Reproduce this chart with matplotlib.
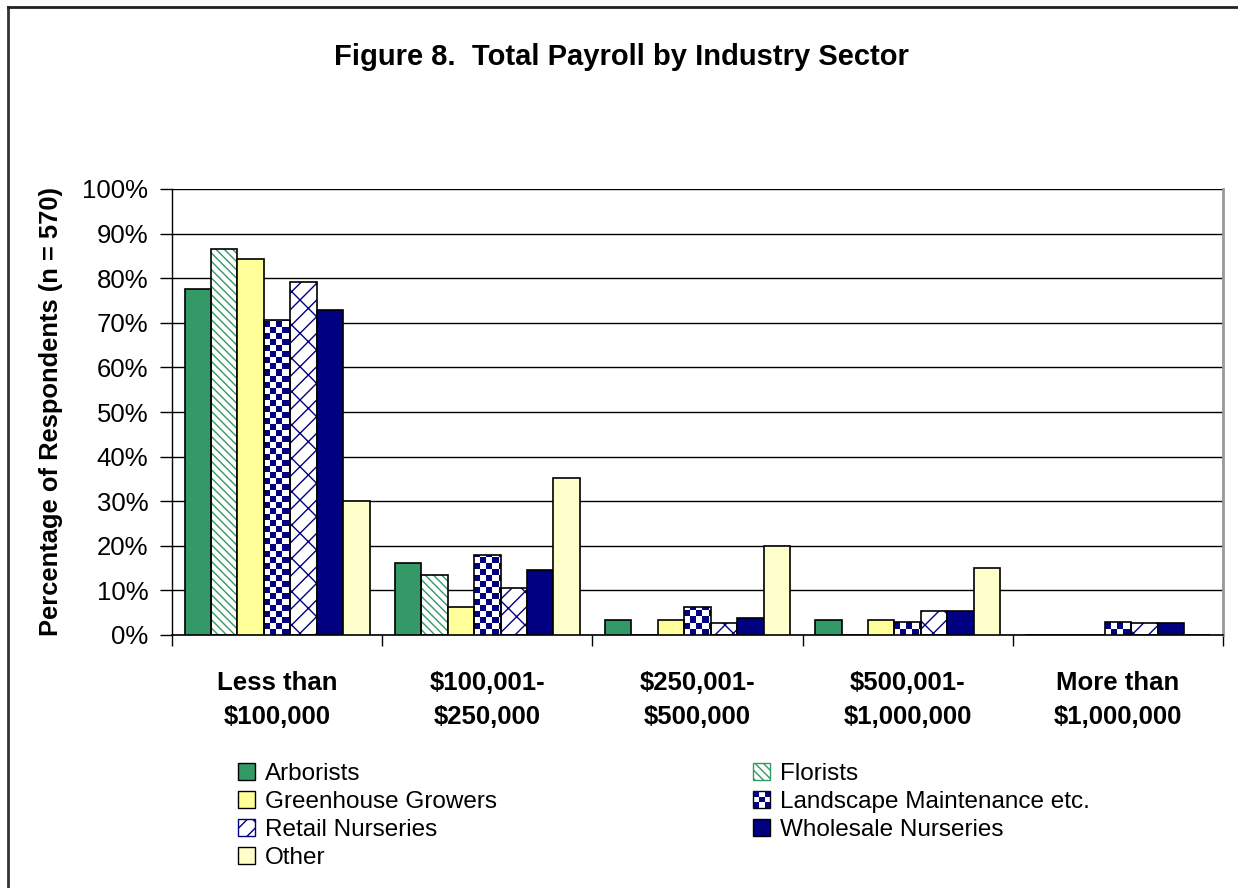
import numpy as np
import matplotlib.pyplot as plt
import matplotlib as mpl
from matplotlib.patches import Rectangle
from matplotlib.legend_handler import HandlerPatch
from matplotlib.colors import ListedColormap

plt.rcParams['font.family'] = ['Liberation Sans', 'DejaVu Sans']

# payroll brackets
categories = ['Less than\n$100,000', '$100,001-\n$250,000', '$250,001-\n$500,000',
              '$500,001-\n$1,000,000', 'More than\n$1,000,000']

# percent of respondents per sector
arborists = [77.6, 16.1, 3.4, 3.4, 0.0]
florists = [86.5, 13.5, 0.0, 0.0, 0.0]
greenhouse = [84.2, 6.2, 3.4, 3.4, 0.0]
landscape = [70.7, 17.9, 6.3, 3.0, 3.0]
retail = [79.1, 10.6, 2.6, 5.4, 2.6]
wholesale = [72.9, 14.6, 3.7, 5.4, 2.6]
other = [30.1, 35.2, 20.0, 15.0, 0.0]

sectors = ['Arborists', 'Florists', 'Greenhouse Growers', 'Landscape Maintenance etc.',
           'Retail Nurseries', 'Wholesale Nurseries', 'Other']
series = [arborists, florists, greenhouse, landscape, retail, wholesale, other]

NAVY = '#000080'
GREEN = '#339966'
# (face, hatch colour, hatch)
styles = [
    (GREEN, None, None),
    ('white', GREEN, '\\\\\\\\'),
    ('#FFFF99', None, None),
    ('white', NAVY, 'checker'),
    ('white', NAVY, '//\\'),
    (NAVY, None, None),
    ('#FFFFCC', None, None),
]

fig = plt.figure(figsize=(12.38, 8.88), dpi=100)
ax = fig.add_axes([172 / 1238, 1 - 635 / 888, (1223 - 172) / 1238, (635 - 189) / 888])

x = np.arange(len(categories))
w = 0.1257
checker_cmap = ListedColormap(['white', NAVY])
handles = []
for i, (name, vals, (face, hcol, hatch)) in enumerate(zip(sectors, series, styles)):
    pos = x + (i - 3) * w
    if hatch is None:
        ax.bar(pos, vals, w, color=face, edgecolor='black', linewidth=1.2, zorder=3)
        h = Rectangle((0, 0), 1, 1, facecolor=face, edgecolor='black', linewidth=1.0)
    elif hatch == 'checker':
        base = ax.bar(pos, vals, w, color='white', linewidth=0, zorder=2.5)
        cx, cy = w / 4.4, 1.35
        for b in base:
            if b.get_height() <= 0:
                continue
            x0, h0 = b.get_x(), b.get_height()
            nx = int(np.ceil(b.get_width() / cx))
            ny = int(np.ceil(h0 / cy))
            board = (np.add.outer(np.arange(ny), np.arange(nx)) % 2)[::-1]
            im = ax.imshow(board, cmap=checker_cmap, extent=[x0, x0 + nx * cx, 0, ny * cy],
                           aspect='auto', interpolation='nearest', zorder=2.6)
            im.set_clip_path(b)
        ax.bar(pos, vals, w, fill=False, edgecolor='black', linewidth=1.2, zorder=3)
        h = Rectangle((0, 0), 1, 1, facecolor='white', edgecolor='black', linewidth=1.0)
    else:
        ax.bar(pos, vals, w, color=face, edgecolor=hcol, hatch=hatch, linewidth=0, zorder=2.5)
        ax.bar(pos, vals, w, fill=False, edgecolor='black', linewidth=1.2, zorder=3)
        h = Rectangle((0, 0), 1, 1, facecolor=face, edgecolor=hcol, hatch=hatch, linewidth=1.0)
    handles.append(h)


class CheckerHandler(HandlerPatch):
    def create_artists(self, legend, orig_handle, xdescent, ydescent, width, height, fontsize, trans):
        arts = [Rectangle((-xdescent, -ydescent), width, height, facecolor='white',
                          edgecolor='black', linewidth=1.0, transform=trans)]
        n = 3
        for r in range(n):
            for c in range(n):
                if (r + c) % 2 == 0:
                    arts.append(Rectangle((-xdescent + c * width / n, -ydescent + r * height / n),
                                          width / n, height / n, facecolor=NAVY, linewidth=0,
                                          transform=trans))
        return arts


ax.set_xlim(-0.5, 4.5)
ax.set_ylim(0, 100)
ax.set_yticks(np.arange(0, 101, 10))
ax.yaxis.set_major_formatter(mpl.ticker.FuncFormatter(lambda v, p: f'{v:.0f}%'))
ax.tick_params(axis='y', direction='out', length=9, width=1, labelsize=18.5, pad=8)
ax.set_xticks(x)
ax.set_xticklabels(categories, fontsize=18.5, fontweight='bold', linespacing=1.5)
ax.tick_params(axis='x', length=0, pad=26)
ax.set_xticks(np.arange(-0.5, 4.6, 1), minor=True)
ax.tick_params(axis='x', which='minor', direction='out', length=8, width=1)
ax.grid(axis='y', color='black', linewidth=1.0, zorder=0)
ax.set_axisbelow(True)
ax.spines['top'].set_visible(False)
ax.spines['right'].set_color('#999999')
ax.spines['right'].set_linewidth(2)
ax.spines['left'].set_linewidth(1)
ax.spines['bottom'].set_linewidth(1.2)

ax.set_ylabel('Percentage of Respondents (n = 570)', fontsize=18.4, fontweight='bold', labelpad=14)
fig.text(621 / 1238, 1 - 57 / 888, 'Figure 8.  Total Payroll by Industry Sector',
         ha='center', va='center', fontsize=21, fontweight='bold')

order = [0, 2, 4, 6, 1, 3, 5]
hmap = {handles[3]: CheckerHandler()}
fig.legend([handles[k] for k in order], [sectors[k] for k in order], ncol=2,
           loc='upper left', bbox_to_anchor=(238 / 1238, 1 - 763 / 888), frameon=False,
           fontsize=17.5, handlelength=0.7, handleheight=0.7, handletextpad=0.4,
           labelspacing=0.25, columnspacing=10.55, borderaxespad=0, borderpad=0,
           handler_map=hmap)

# outer chart border (left and top only)
fig.add_artist(plt.Line2D([8 / 1238, 8 / 1238], [0, 1 - 7.5 / 888], transform=fig.transFigure,
                          color='#333333', linewidth=2))
fig.add_artist(plt.Line2D([8 / 1238, 1], [1 - 7.5 / 888, 1 - 7.5 / 888], transform=fig.transFigure,
                          color='#222222', linewidth=2))

fig.savefig('out.png', dpi=100)
